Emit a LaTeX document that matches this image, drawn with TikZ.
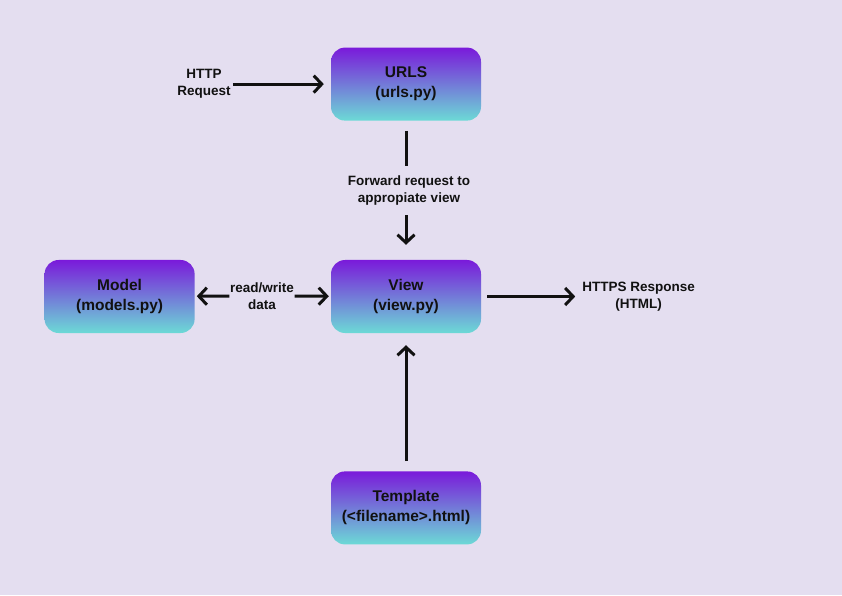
\documentclass[tikz,border=0pt]{standalone}
\usepackage{fontspec}
\setmainfont{Liberation Sans}
\usepackage{xcolor}
\usetikzlibrary{arrows.meta, positioning}

\definecolor{bgpurple}{RGB}{228,222,240}
\definecolor{boxtop}{RGB}{122,26,218}
\definecolor{boxmid}{RGB}{116,114,210}
\definecolor{boxbot}{RGB}{108,218,214}
\definecolor{ink}{RGB}{17,17,17}

\begin{document}
\begin{tikzpicture}[
  x=1pt, y=1pt,
  node distance=139pt and 136pt,
  box/.style={rounded corners=14pt, minimum height=73pt, minimum width=150pt, inner sep=0pt, align=center,
    top color=boxtop, middle color=boxmid, bottom color=boxbot, text=ink,
    font=\fontsize{15.5}{20}\selectfont\bfseries},
  lbl/.style={align=center, inner sep=0pt, text=ink, font=\fontsize{13.5}{17}\selectfont\bfseries},
  arr/.style={-{Straight Barb[length=8pt,width=17pt]}, line width=3pt, draw=ink},
  line/.style={line width=3pt, draw=ink}
]
\fill[bgpurple] (0,0) rectangle (842,595);
\useasboundingbox (0,0) rectangle (842,595);

\node[box] (view) at (406,298.5) {View\\(view.py)};
\node[box, above=of view] (urls) {URLS\\(urls.py)};
\node[box, left=of view] (model) {Model\\(models.py)};
\node[box, below=138pt of view] (template) {Template\\(<filename>.html)};

\node[lbl, left=100pt of urls] (http) {HTTP\\Request};
\node[lbl, minimum height=49pt] (fwd) at (409,404.5) {Forward request to\\appropiate view};
\node[lbl, minimum width=65pt] (rw) at (262,299) {read/write\\data};
\node[lbl, right=101pt of view] (resp) {HTTPS Response\\(HTML)};

\draw[arr, shorten <=2pt, shorten >=7pt] (http) -- (urls);
\draw[line, shorten <=10pt] (urls.south) -- (urls.south |- fwd.north);
\draw[arr, shorten >=15pt] (urls.south |- fwd.south) -- (view.north);
\draw[arr, shorten >=2pt] (rw) -- (model);
\draw[arr, shorten >=2pt] (rw) -- (view);
\draw[arr, shorten <=6pt, shorten >=7pt] (view) -- (resp);
\draw[arr, shorten <=10pt, shorten >=12pt] (template) -- (view);
\end{tikzpicture}
\end{document}
